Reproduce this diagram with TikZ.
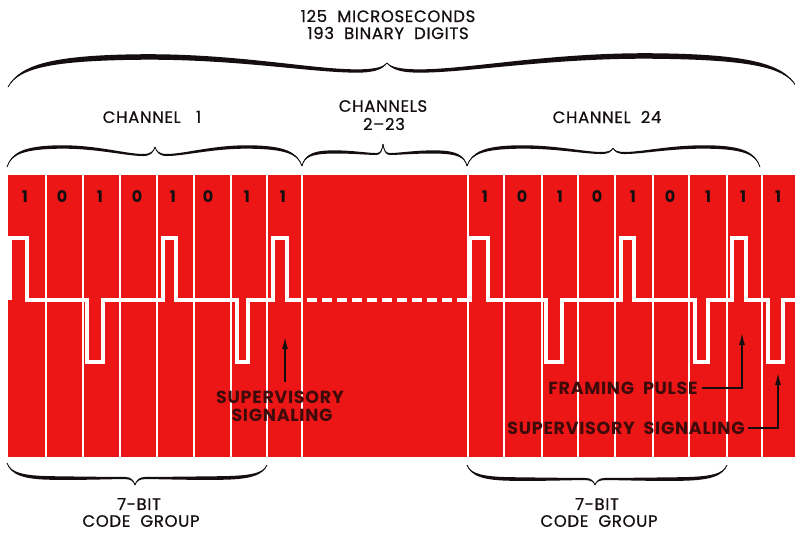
\documentclass[tikz,border=0pt]{standalone}
\usepackage{fontspec}
\setmainfont{Poppins}
\newfontfamily\labfont{Poppins}[LetterSpace=4,FakeBold=0.6]
\newfontfamily\redfont{Poppins}[LetterSpace=4]
\usetikzlibrary{arrows.meta,calc}
\definecolor{sigred}{RGB}{236,22,22}
\definecolor{ink}{RGB}{20,14,14}
\definecolor{darkink}{RGB}{62,10,10}
\newcommand{\hbr}[8]{%
\begin{scope}[shift={(#1,#2)},xscale={(#3)*(#4)}]
\fill[ink] (0,0) .. controls (0.03,{0.7*(#5)-0.3*(#8)}) and (0.12,{0.97*(#5)-0.5*(#8)}) .. (0.35,{(#5)-0.5*(#8)}) .. controls (0.6,{1.03*(#5)-0.5*(#8)}) and (0.8,{(#6)-0.3*(#8)}) .. (0.92,{(#6)-0.3*(#8)}) .. controls (0.97,{(#6)-0.3*(#8)}) and (0.99,{(#6)+0.4*((#7)-(#6))-0.2*(#8)}) .. (1,#7) .. controls (0.99,{(#6)+0.4*((#7)-(#6))+0.2*(#8)}) and (0.97,{(#6)+0.3*(#8)}) .. (0.92,{(#6)+0.3*(#8)}) .. controls (0.8,{(#6)+0.3*(#8)}) and (0.6,{1.03*(#5)+0.5*(#8)}) .. (0.35,{(#5)+0.5*(#8)}) .. controls (0.12,{0.97*(#5)+0.5*(#8)}) and (0.03,{0.7*(#5)+0.3*(#8)}) .. (0,0) -- cycle;
\draw[ink,line width=0.8pt] (0,0) .. controls (0.03,{0.7*(#5)}) and (0.12,{0.97*(#5)}) .. (0.35,#5) .. controls (0.6,{1.03*(#5)}) and (0.8,#6) .. (0.92,#6) .. controls (0.97,#6) and (0.99,{(#6)+0.4*((#7)-(#6))}) .. (1,#7);
\end{scope}}
\tikzset{
  toplabel/.style={font=\labfont\fontsize{16.5}{19}\selectfont, text=ink, inner sep=0pt},
  redlabel/.style={font=\redfont\bfseries\fontsize{17.5}{19}\selectfont, text=darkink, inner sep=0pt},
  digit/.style={font=\bfseries\fontsize{16}{18}\selectfont, text=ink, inner sep=0pt},
  wave/.style={draw=white, line width=3.6pt, line join=miter},
  sep/.style={draw=white, line width=2.6pt},
  arr/.style={draw=ink, line width=1.4pt, -{Latex[length=12pt,width=6pt]}}
}
\begin{document}
\begin{tikzpicture}[x=1pt,y=-1pt]
\useasboundingbox (0,0) rectangle (795,533);
\fill[white] (0,0) rectangle (795,533);
% red band
\fill[sigred] (8,175) rectangle (800,457);
\foreach \x in {46,83,120,157,194,231,267,302,468,504,542,578,615,653,689,727,762}
  \draw[sep] (\x,172) -- (\x,460);
% digits
\foreach \x/\b [count=\i] in {25/1,62/0,100/1,137/0,173/1,208/0,247/1,283/1}
  \node[digit] (dl\i) at (\x,197) {\b};
\foreach \x/\b [count=\i] in {485/1,522/0,560/1,597/0,633/1,670/0,708/1,743/1,778/1}
  \node[digit] (dr\i) at (\x,197) {\b};
% waveform
\draw[wave] (10,300) -- (10,238) -- (27,238) -- (27,300) -- (87,300) -- (87,362) -- (103,362) -- (103,300) -- (163,300) -- (163,238) -- (176,238) -- (176,300) -- (237,300) -- (237,362) -- (248,362) -- (248,300) -- (273,300) -- (273,238) -- (287,238) -- (287,300) -- (303,300);
\draw[wave, dash pattern=on 10pt off 5pt] (307,300) -- (465,300);
\draw[wave] (463,300) -- (470,300) -- (470,238) -- (488,238) -- (488,300) -- (546,300) -- (546,362) -- (562,362) -- (562,300) -- (621,300) -- (621,238) -- (634,238) -- (634,300) -- (695,300) -- (695,362) -- (708,362) -- (708,300) -- (732,300) -- (732,238) -- (746,238) -- (746,300) -- (768,300) -- (768,362) -- (783,362) -- (783,300) -- (800,300);
% braces
\hbr{8}{87}{1}{379}{-30}{-16}{-24}{5.5}
\hbr{796}{86}{-1}{409}{-30}{-15}{-23}{5.5}
\hbr{7}{167}{1}{148}{-20}{-12}{-20}{3.4}
\hbr{302}{166}{-1}{147}{-19}{-11}{-19}{3.4}
\hbr{302}{166}{1}{81}{-14}{-12}{-22}{3.2}
\hbr{467}{166}{-1}{84}{-14}{-12}{-22}{3.2}
\hbr{467}{166}{1}{146}{-19}{-13}{-18}{3.4}
\hbr{760}{167}{-1}{147}{-20}{-14}{-19}{3.4}
\hbr{7}{463}{1}{128}{15}{15}{22}{3.6}
\hbr{267}{465}{-1}{132}{13}{13}{20}{3.6}
\hbr{467}{465}{1}{128}{14}{14}{20}{3.6}
\hbr{727}{465}{-1}{132}{14}{14}{20}{3.6}
% top labels
\node[toplabel] (t1) at (388,16) {125\ \ MICROSECONDS};
\node[toplabel] (t2) at (388,33) {193\ \ BINARY\ \ DIGITS};
\node[toplabel] (c1) at (152,117) {CHANNEL\ \ \ 1};
\node[toplabel] (c2a) at (383,106) {CHANNELS};
\node[toplabel] (c2b) at (384,124) {2–23};
\node[toplabel] (c24) at (607,117) {CHANNEL\ \ 24};
% bottom labels
\node[toplabel] (b1a) at (139,504) {7-BIT};
\node[toplabel] (b1b) at (141,521) {CODE\ \ GROUP};
\node[toplabel] (b2a) at (597,504) {7-BIT};
\node[toplabel] (b2b) at (599,521) {CODE\ \ GROUP};
% labels on red
\node[redlabel] (sv1) at (280,397) {SUPERVISORY};
\node[redlabel] (sv2) at (282,415) {SIGNALING};
\coordinate (a1) at (285,337);
\draw[arr] ($(sv1.north -| a1)+(0,-9)$) -- (a1);
\node[redlabel] (fp) at (623,388) {FRAMING\ \ PULSE};
\coordinate (fpt) at (742,333);
\draw[arr] ($(fp.east)+(4,0)$) -| (fpt);
\node[redlabel] (ss) at (626,428) {SUPERVISORY\ \ SIGNALING};
\coordinate (sst) at (778,373);
\draw[arr] ($(ss.east)+(3,0)$) -| (sst);
\end{tikzpicture}
\end{document}
